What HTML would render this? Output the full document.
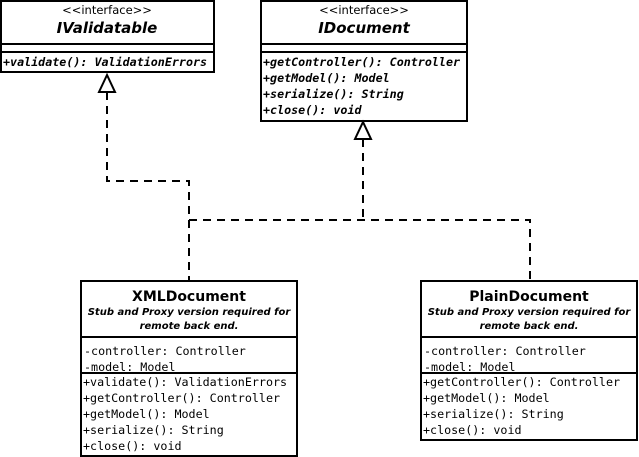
<!DOCTYPE html>
<html><head><style>html,body{margin:0;padding:0;background:#fff;width:639px;height:457px;overflow:hidden}svg{display:block}
.m{font-family:"DejaVu Sans Mono","Liberation Mono",monospace;font-size:11.7px}
.mi{font-family:"DejaVu Sans Mono","Liberation Mono",monospace;font-size:11.7px;font-style:italic;font-weight:bold}
.s{font-family:"DejaVu Sans","Liberation Sans",sans-serif;font-size:11.5px}
</style></head><body>
<svg width="639" height="457" viewBox="0 0 639 457" xmlns="http://www.w3.org/2000/svg">
<g fill="#fff" stroke="#000" stroke-width="2">
<rect x="1" y="1" width="213" height="71"/>
<line x1="1" y1="44" x2="214" y2="44"/><line x1="1" y1="52" x2="214" y2="52"/>
<rect x="261" y="1" width="206" height="120"/>
<line x1="261" y1="44" x2="467" y2="44"/><line x1="261" y1="52" x2="467" y2="52"/>
<rect x="81" y="281" width="216" height="175"/>
<line x1="81" y1="337" x2="297" y2="337"/><line x1="81" y1="373" x2="297" y2="373"/>
<rect x="421" y="281" width="216" height="159"/>
<line x1="421" y1="337" x2="637" y2="337"/><line x1="421" y1="373" x2="637" y2="373"/>
</g>
<g fill="none" stroke="#000" stroke-width="2" stroke-dasharray="8,6">
<polyline points="107,92 107,181 189,181 189,281"/>
<polyline points="363,139 363,220"/>
<polyline points="189,220 530,220 530,281"/>
</g>
<g fill="#fff" stroke="#000" stroke-width="2">
<polygon points="107,75 99,92 115,92"/>
<polygon points="363,122 355,139 371,139"/>
</g>
<g text-anchor="middle">
<text x="107" y="14" class="s">&lt;&lt;interface&gt;&gt;</text>
<text x="107" y="33" font-family="DejaVu Sans,sans-serif" font-size="15" font-weight="bold" font-style="italic">IValidatable</text>
<text x="364" y="14" class="s">&lt;&lt;interface&gt;&gt;</text>
<text x="364" y="33" font-family="DejaVu Sans,sans-serif" font-size="15" font-weight="bold" font-style="italic">IDocument</text>
<text x="189" y="301" font-family="DejaVu Sans,sans-serif" font-size="14" font-weight="bold">XMLDocument</text>
<text x="189" y="315" font-family="DejaVu Sans,sans-serif" font-size="10" font-weight="bold" font-style="italic">Stub and Proxy version required for</text>
<text x="189" y="329" font-family="DejaVu Sans,sans-serif" font-size="10" font-weight="bold" font-style="italic">remote back end.</text>
<text x="529" y="301" font-family="DejaVu Sans,sans-serif" font-size="14" font-weight="bold">PlainDocument</text>
<text x="529" y="315" font-family="DejaVu Sans,sans-serif" font-size="10" font-weight="bold" font-style="italic">Stub and Proxy version required for</text>
<text x="529" y="329" font-family="DejaVu Sans,sans-serif" font-size="10" font-weight="bold" font-style="italic">remote back end.</text>
</g>
<text x="3" y="66" class="mi">+validate(): ValidationErrors</text>
<text x="263" y="66" class="mi">+getController(): Controller</text>
<text x="263" y="82" class="mi">+getModel(): Model</text>
<text x="263" y="98" class="mi">+serialize(): String</text>
<text x="263" y="114" class="mi">+close(): void</text>
<g class="m">
<text x="84" y="355">-controller: Controller</text>
<text x="84" y="371">-model: Model</text>
<text x="83" y="386">+validate(): ValidationErrors</text>
<text x="83" y="402">+getController(): Controller</text>
<text x="83" y="418">+getModel(): Model</text>
<text x="83" y="434">+serialize(): String</text>
<text x="83" y="450">+close(): void</text>
<text x="424" y="355">-controller: Controller</text>
<text x="424" y="371">-model: Model</text>
<text x="423" y="386">+getController(): Controller</text>
<text x="423" y="402">+getModel(): Model</text>
<text x="423" y="418">+serialize(): String</text>
<text x="423" y="434">+close(): void</text>
</g>
</svg>
</body></html>
